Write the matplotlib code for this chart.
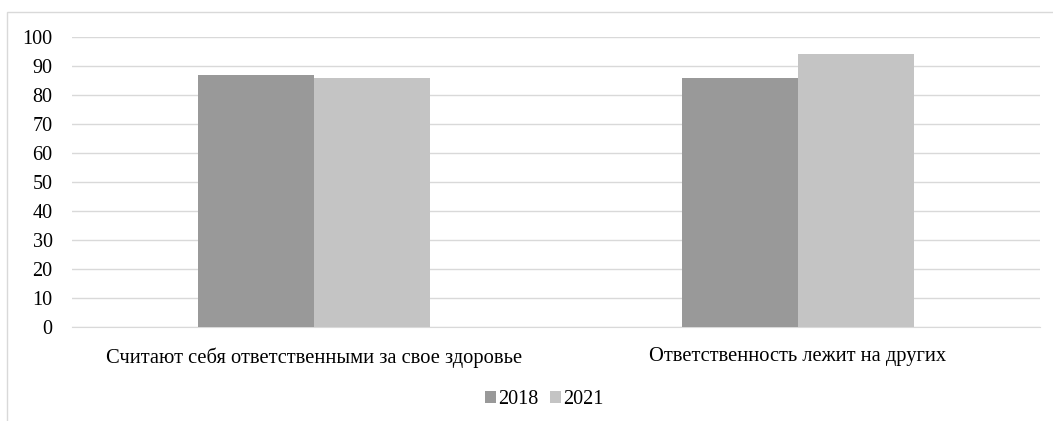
import matplotlib.pyplot as plt
import numpy as np
from matplotlib.patches import Rectangle

# Data
categories = ["Считают себя ответственными за свое здоровье", "Ответственность лежит на других"]
years = ["2018", "2021"]
values_2018 = [87, 86]
values_2021 = [86, 94]

plt.rcParams['font.family'] = ['Liberation Serif', 'DejaVu Serif']

fig = plt.figure(figsize=(10.53, 4.21), dpi=100)
ax = fig.add_axes([0.0684, 0.2233, 0.9193, 0.6887])

# outer chart frame
fig.patches.append(Rectangle((7 / 1053, -0.01), 1.1, 1 - 12 / 421 + 0.01, transform=fig.transFigure,
                             fill=False, edgecolor='#d9d9d9', linewidth=1.0))

x = np.arange(len(categories))
w = 0.24
ax.bar(x - w / 2, values_2018, w, color='#999999', label=years[0], zorder=3)
ax.bar(x + w / 2, values_2021, w, color='#c4c4c4', label=years[1], zorder=3)

ax.set_xlim(-0.5, 1.5)
ax.set_ylim(0, 100)
ax.set_yticks(np.arange(0, 101, 10))
ax.set_xticks(x)
ax.set_xticklabels(categories)
ax.yaxis.grid(True, color='#d9d9d9', linewidth=1.0, zorder=0)
ax.tick_params(axis='y', length=0, pad=14, labelsize=14.5)
ax.tick_params(axis='x', length=0, pad=14.5, labelsize=14.8)

for s in ['top', 'right', 'left']:
    ax.spines[s].set_visible(False)
ax.spines['bottom'].set_color('#d9d9d9')

fig.legend(loc='center', bbox_to_anchor=(544 / 1053, 1 - 400 / 421), ncol=2, frameon=False,
           fontsize=14.5, handlelength=0.55, handleheight=0.55, handletextpad=0.1, columnspacing=0.6)

fig.savefig('out.png', dpi=100)
